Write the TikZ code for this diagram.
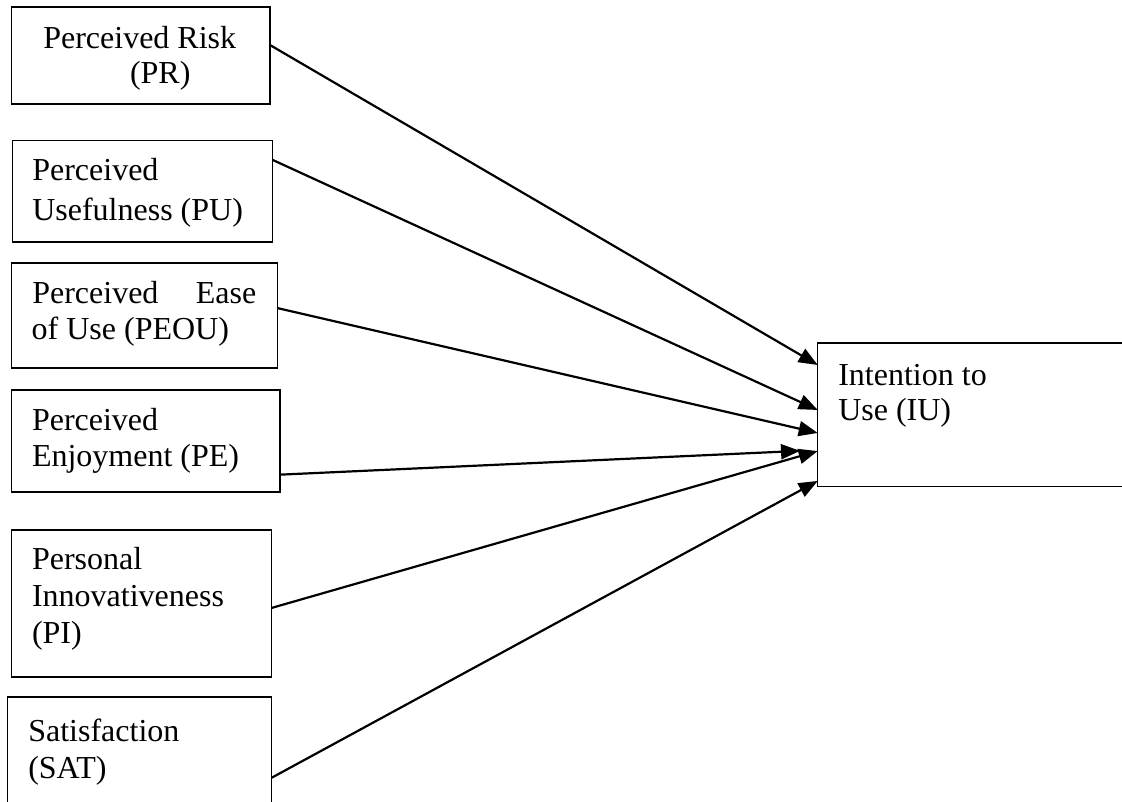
\documentclass[tikz,border=0pt]{standalone}
\usepackage{fontspec}
\setmainfont{Liberation Serif}
\usetikzlibrary{arrows.meta,calc}
\begin{document}
\begin{tikzpicture}[x=1pt,y=-1pt,
  box/.style={draw,line width=1.3pt,rectangle,inner sep=0pt,outer sep=0pt},
  lbl/.style={anchor=base west,inner sep=0pt,outer sep=0pt,font=\fontsize{32}{38}\selectfont},
  link/.style={line width=2.2pt,-{Triangle[length=19pt,width=15pt]}}]
\useasboundingbox (0,0) rectangle (1122,802);
\clip (0,0) rectangle (1122,802);
% boxes
\node[box,minimum width=258.3pt,minimum height=97pt]   (PR)   at (140.85,55.5) {};
\node[box,minimum width=260.4pt,minimum height=101.3pt](PU)   at (142.5,191.35) {};
\node[box,minimum width=266pt,minimum height=105pt]    (PEOU) at (144.7,315.5) {};
\node[box,minimum width=268.3pt,minimum height=102pt]  (PE)   at (145.85,441) {};
\node[box,minimum width=260pt,minimum height=147pt]    (PI)   at (141.7,603.5) {};
\node[box,minimum width=264pt,minimum height=133pt]    (SAT)  at (139.7,763.5) {};
\node[box,minimum width=322.3pt,minimum height=143.7pt](IU)   at (978.85,414.85) {};
% texts
\node[lbl] (tPR1) at (43.3,48.3) {Perceived Risk};
\node[lbl] (tPR2) at (130,84) {(PR)};
\node[lbl] (tPU1) at (32.3,180.7) {Perceived};
\node[lbl] (tPU2) at (32.3,220.7) {Usefulness (PU)};
\node[lbl] (tPEOU1) at (32.3,304) {\hbox to 224pt{Perceived\hfill Ease}};
\node[lbl] (tPEOU2) at (31.7,340) {of Use (PEOU)};
\node[lbl] (tPE1) at (32,430) {Perceived};
\node[lbl] (tPE2) at (32,466) {Enjoyment (PE)};
\node[lbl] (tPI1) at (32,569) {Personal};
\node[lbl] (tPI2) at (32,606) {Innovativeness};
\node[lbl] (tPI3) at (32,643) {(PI)};
\node[lbl] (tSAT1) at (28.3,741) {Satisfaction};
\node[lbl] (tSAT2) at (28.3,778) {(SAT)};
\node[lbl] (tIU1) at (838.3,385) {Intention to};
\node[lbl] (tIU2) at (838.3,420) {Use (IU)};
% connectors
\draw[link] ($(PR.north east)!0.392!(PR.south east)$) -- ($(IU.north west)!0.153!(IU.south west)$);
\draw[link] ($(PU.north east)!0.19!(PU.south east)$) -- ($(IU.north west)!0.466!(IU.south west)$);
\draw[link] ($(PEOU.north east)!0.43!(PEOU.south east)$) -- ($(IU.north west)!0.626!(IU.south west)$);
\draw[link,shorten >=17.7pt] ($(PE.north east)!0.83!(PE.south east)$) -- ($(IU.north west)!0.745!(IU.south west)$);
\draw[link] ($(PI.north east)!0.53!(PI.south east)$) -- ($(IU.north west)!0.752!(IU.south west)$);
\draw[link] ($(SAT.north east)!0.607!(SAT.south east)$) -- ($(IU.north west)!0.96!(IU.south west)$);
\end{tikzpicture}
\end{document}
